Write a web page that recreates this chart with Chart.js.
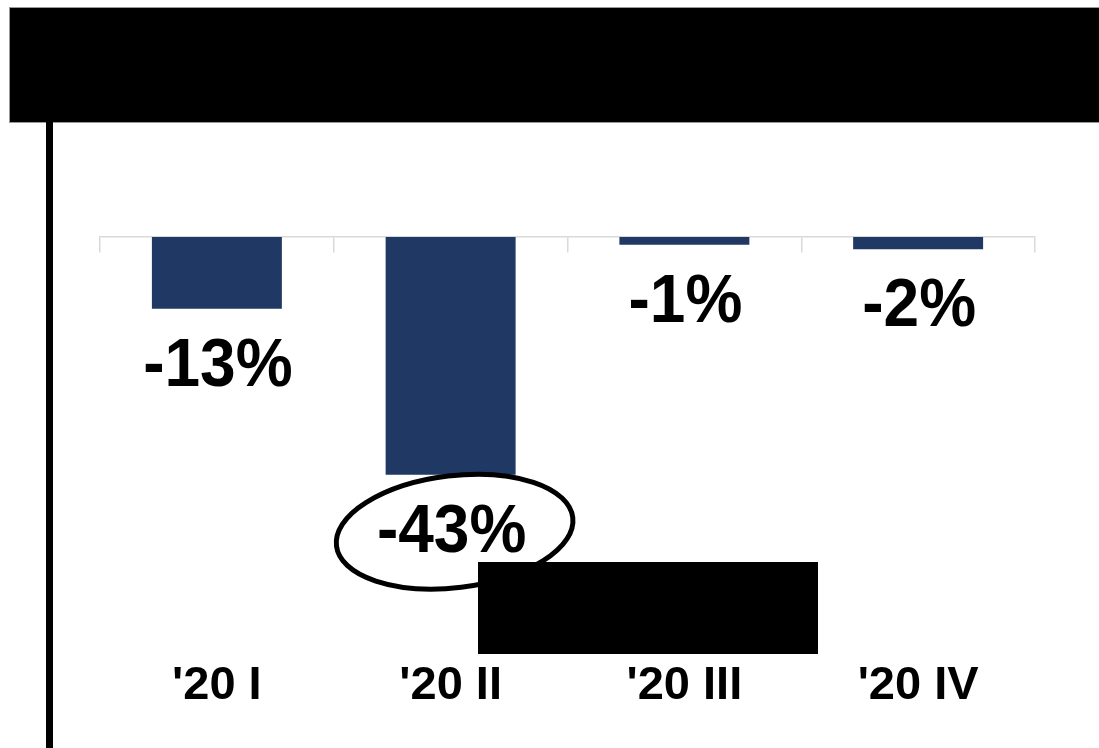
<!DOCTYPE html>
<html>
<head>
<meta charset="utf-8">
<script src="https://cdn.jsdelivr.net/npm/chart.js@4.4.1/dist/chart.umd.min.js"></script>
<style>
  html, body { margin: 0; padding: 0; background: #fff; }
  #wrap { width: 1099px; height: 748px; position: relative; }
</style>
</head>
<body>
<div id="wrap"><canvas id="chart"></canvas></div>
<script>
// quarters and change vs previous year (%)
var quarters = ["'20 I", "'20 II", "'20 III", "'20 IV"];
var changes = [-13, -43, -1.4, -2.2];
var yMin = -75;
var yMax = 0;

// redacted header, left rule, highlight ellipse and redacted box
var decorations = {
  id: 'decorations',
  beforeDraw: function(chart) {
    var ctx = chart.ctx;
    ctx.save();
    ctx.fillStyle = '#fff';
    ctx.fillRect(0, 0, chart.width, chart.height);
    ctx.fillStyle = '#000';
    ctx.fillRect(9, 7, 1090, 115);
    ctx.strokeStyle = '#999';
    ctx.lineWidth = 1;
    ctx.strokeRect(9.5, 7.5, 1090, 115);
    ctx.fillRect(46, 122, 7, 626);
    ctx.restore();
  },
  afterDraw: function(chart) {
    var ctx = chart.ctx;
    var meta = chart.getDatasetMeta(0);
    ctx.save();
    // data labels under each bar (slightly tall, like the original)
    ctx.fillStyle = '#000';
    ctx.font = 'bold 64px "Liberation Sans", Arial, sans-serif';
    ctx.textAlign = 'center';
    ctx.textBaseline = 'middle';
    meta.data.forEach(function(bar, i) {
      ctx.save();
      ctx.translate(bar.x + 1, bar.y + 58);
      ctx.scale(1, 1.08);
      ctx.fillText(Math.round(changes[i]) + '%', 0, 0);
      ctx.restore();
    });
    // ellipse round the biggest drop
    var big = meta.data[1];
    ctx.beginPath();
    ctx.ellipse(big.x + 4, big.y + 57, 119, 56, -0.12, 0, Math.PI * 2);
    ctx.lineWidth = 5;
    ctx.strokeStyle = '#000';
    ctx.stroke();
    // redacted box
    ctx.fillStyle = '#000';
    ctx.fillRect(478, 562, 340, 92);
    ctx.restore();
  }
};

var context = document.getElementById('chart').getContext('2d');
var myChart = new Chart(context, {
  type: 'bar',
  data: {
    labels: quarters,
    datasets: [{
      data: changes,
      backgroundColor: '#203864',
      borderWidth: 0,
      categoryPercentage: 1,
      barPercentage: 0.556
    }]
  },
  options: {
    responsive: true,
    maintainAspectRatio: false,
    animation: false,
    layout: { padding: { top: 237, left: 100, right: 64, bottom: 28 } },
    plugins: { legend: { display: false }, tooltip: { enabled: false } },
    scales: {
      y: { display: false, min: yMin, max: yMax },
      x: {
        grid: { display: false, drawTicks: false },
        border: { display: false },
        ticks: {
          color: '#000',
          padding: 6,
          font: { family: '"Liberation Sans", Arial, sans-serif', size: 47, weight: 'bold' }
        }
      },
      x2: {
        type: 'category',
        labels: quarters,
        position: { y: 0 },
        ticks: { display: false },
        grid: { offset: true, drawOnChartArea: false, tickLength: 15, color: '#d9d9d9', lineWidth: 1.5 },
        border: { display: true, color: '#d9d9d9', width: 1.5 }
      }
    }
  },
  plugins: [decorations]
});
</script>
</body>
</html>
